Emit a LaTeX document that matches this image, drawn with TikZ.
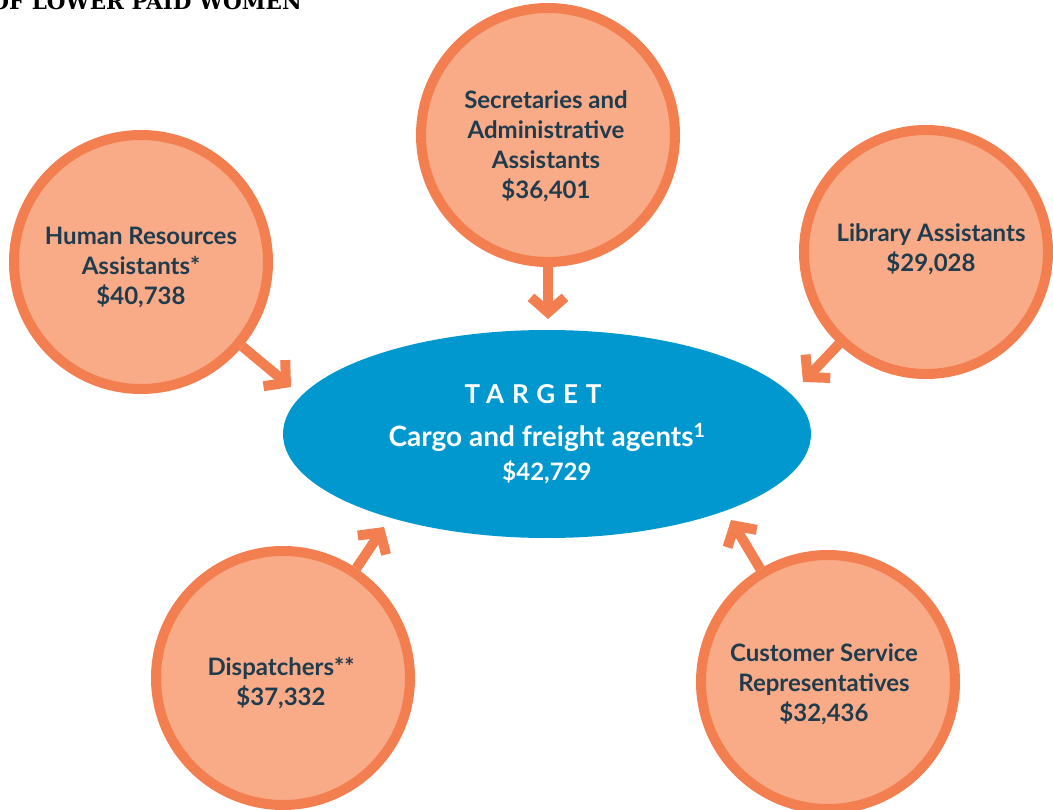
\documentclass[tikz,border=0pt]{standalone}
\usepackage{fontspec}
\setmainfont{Lato}
\newfontfamily\titlefont{DejaVu Serif}
\usetikzlibrary{shapes.geometric,arrows.meta,positioning}
\definecolor{ringorange}{HTML}{F37E50}
\definecolor{peachfill}{HTML}{F8AB86}
\definecolor{targetblue}{HTML}{0098CE}
\definecolor{labelnavy}{HTML}{1F3B4E}
\tikzstyle{job} = [draw=ringorange, circle, fill=peachfill, line width=10pt,
    minimum size=254pt, inner sep=0pt]
\tikzstyle{joblabel} = [align=center, text=labelnavy, inner sep=0pt,
    font=\bfseries\fontsize{24}{30}\selectfont]
\tikzstyle{target} = [ellipse, fill=targetblue, minimum width=528pt,
    minimum height=208pt, inner sep=0pt, align=center, text=white,
    font=\bfseries\fontsize{24}{34}\selectfont]
\tikzstyle{heading} = [anchor=base east, text=black, inner sep=0pt,
    font=\titlefont\bfseries\fontsize{21.5}{22}\selectfont]
\tikzstyle{connector} = [-{Straight Barb[length=15pt,width=34pt]},
    draw=ringorange, line width=10pt]

\begin{document}
\begin{tikzpicture}[x=1pt,y=-1pt]
		\useasboundingbox (0,0) rectangle (1053,810);
		\clip (0,0) rectangle (1053,810);
		\node[heading] (title) at (302,9.5) {OF LOWER PAID WOMEN};

		\node[target] (target) at (547,434) {{\fontsize{26}{30}\selectfont\addfontfeature{LetterSpace=30}TARGET}\kern28pt\\[9pt]
			{\fontsize{28}{34}\selectfont Cargo and freight agents\textsuperscript{1}}\\ \$42,729};

		\node[job] (sec) at (548,135) {};
		\node[job] (hr) at (141,262) {};
		\node[job, minimum size=244pt] (lib) at (926,252) {};
		\node[job] (disp) at (283,678) {};
		\node[job] (cs) at (828,682) {};

		% labels sit a little off the circle centres
		\node[joblabel] (sec label) at ([xshift=-2pt,yshift=-11pt]sec.center) {Secretaries and\\Administrative\\Assistants\\\$36,401};
		\node[joblabel] (hr label) at ([yshift=-6pt]hr.center) {Human Resources\\Assistants*\\\$40,738};
		\node[joblabel] (lib label) at ([xshift=5pt,yshift=3pt]lib.center) {Library Assistants\\\$29,028};
		\node[joblabel] (disp label) at ([xshift=-2pt,yshift=-5pt]disp.center) {Dispatchers**\\\$37,332};
		\node[joblabel] (cs label) at ([xshift=-4pt,yshift=-2pt]cs.center) {Customer Service\\Representatives\\\$32,436};

		\coordinate (sec tip) at (548,319);
		\coordinate (hr tip) at (291,387);
		\coordinate (lib tip) at (803,382);
		\coordinate (disp tip) at (384,527);
		\coordinate (cs tip) at (731,520);

		\draw[connector] (sec) to (sec tip);
		\draw[connector] (hr) to (hr tip);
		\draw[connector] (lib) to (lib tip);
		\draw[connector] (disp) to (disp tip);
		\draw[connector] (cs) to (cs tip);
	\end{tikzpicture}
\end{document}
